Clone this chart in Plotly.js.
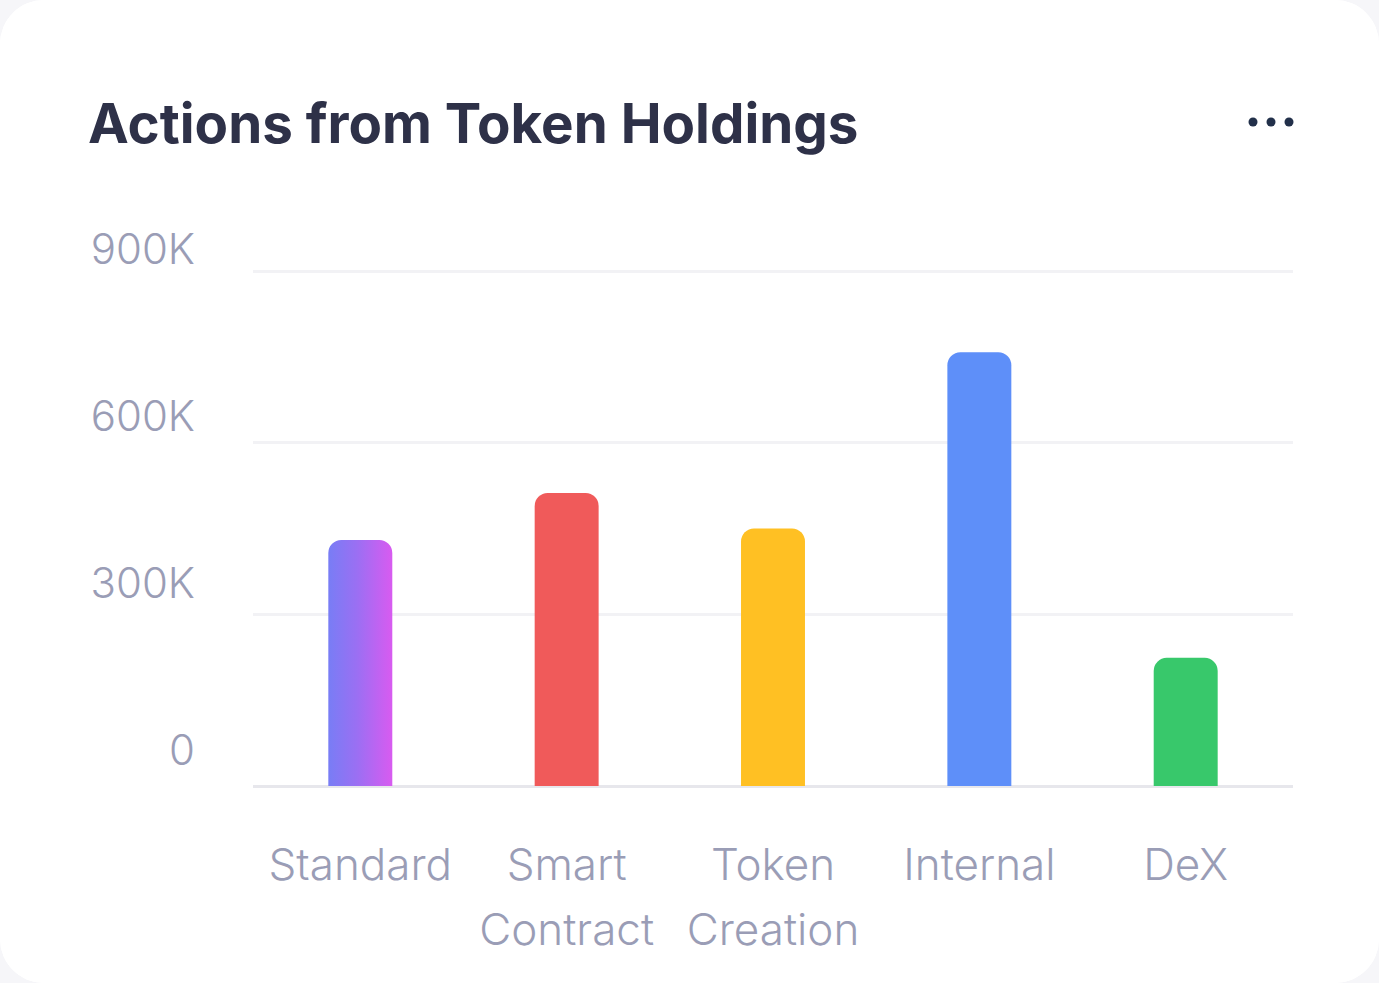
<!DOCTYPE html>
<html>
<head>
<meta charset="utf-8">
<script src="https://cdn.plot.ly/plotly-3.0.1.min.js"></script>
<style>
  html, body { margin: 0; padding: 0; background: #F6F6F9; width: 1379px; height: 983px; overflow: hidden; }
  #card { position: absolute; left: 0; top: 0; width: 1379px; height: 983px; background: #fff; border-radius: 44px; overflow: hidden; }
  #chart { width: 1379px; height: 983px; }
</style>
</head>
<body>
<div id="card"><div id="chart"></div></div>
<script>
const categories = ["Standard", "Smart<br>Contract", "Token<br>Creation", "Internal", "DeX"];
const values = [430000, 512000, 450000, 758000, 224000];
const barColors = ["#A56EF2", "#F05A5A", "#FFC023", "#5E8FF9", "#38C86B"];
const tickValues = [0, 300000, 600000, 900000];
const tickLabels = ["0", "300K", "600K", "900K"];

const trace = {
  type: "bar",
  x: categories,
  y: values,
  width: 0.31,
  marker: { color: barColors, cornerradius: 13, line: { width: 0 } },
  hoverinfo: "none"
};

// carrier so the label axis (y2) is drawn; draws nothing itself
const labelCarrier = {
  type: "scatter", x: categories, y: values, yaxis: "y2",
  mode: "none", hoverinfo: "skip", showlegend: false
};

const FIG_H = 983, PAPER_TOP = 230, PLOT_TOP = 265, PLOT_BOTTOM = 786;
const paperH = PLOT_BOTTOM - PAPER_TOP;
const dotY = (PLOT_BOTTOM - 122) / paperH;
const dots = [-40, -22, -4].map(dx => ({
  type: "circle", xref: "paper", yref: "paper",
  xsizemode: "pixel", ysizemode: "pixel",
  xanchor: 1, yanchor: dotY,
  x0: dx - 4.5, x1: dx + 4.5, y0: -4.5, y1: 4.5,
  fillcolor: "#22304A", line: { width: 0 }
}));

const tickFont = { family: "Inter, 'Noto Sans', sans-serif", size: 42, weight: 300, color: "#9A9DB6" };

// label axis: "0" label centred ~750px, "900K" label centred ~249px
const labPx0 = 750, labPx900 = 249;
const perPx = 900000 / (labPx0 - labPx900);
const y2range = [-(PLOT_BOTTOM - labPx0) * perPx, (labPx0 - PAPER_TOP) * perPx];

const layout = {
  width: 1379, height: 983,
  margin: { l: 253, r: 86, t: PAPER_TOP, b: FIG_H - PLOT_BOTTOM },
  paper_bgcolor: "#FFFFFF", plot_bgcolor: "rgba(0,0,0,0)",
  showlegend: false,
  title: {
    text: "Actions from Token Holdings",
    x: 88 / 1379, xref: "container", xanchor: "left",
    y: 1 - 124 / FIG_H, yref: "container", yanchor: "middle",
    font: { family: "Inter, 'Noto Sans', sans-serif", size: 54.7, weight: 700, color: "#2E3148" }
  },
  xaxis: {
    type: "category",
    range: [-0.52, 4.52],
    showgrid: false, showline: false, zeroline: false,
    ticks: "", ticklabelstandoff: 49,
    tickfont: Object.assign({}, tickFont, { size: 44 })
  },
  yaxis: {
    domain: [0, (PLOT_BOTTOM - PLOT_TOP) / paperH],
    range: [0, 910500],
    tickvals: tickValues, showticklabels: false,
    showgrid: true, gridcolor: "#F2F2F5", gridwidth: 3,
    zeroline: true, zerolinecolor: "#E7E7EC", zerolinewidth: 3,
    showline: false, ticks: ""
  },
  yaxis2: {
    domain: [0, 1], anchor: "free", position: 0, side: "left",
    range: y2range,
    tickvals: tickValues, ticktext: tickLabels,
    showgrid: false, zeroline: false, showline: false, ticks: "",
    ticklabelstandoff: 58,
    tickfont: tickFont
  },
  shapes: dots
};

const gd = document.getElementById("chart");
Plotly.newPlot(gd, [trace, labelCarrier], layout, { displayModeBar: false, staticPlot: true }).then(postProcess);

function postProcess() {
  const svg = gd.querySelector(".main-svg");
  let defs = svg.querySelector("defs");
  if (!defs) { defs = document.createElementNS("http://www.w3.org/2000/svg", "defs"); svg.insertBefore(defs, svg.firstChild); }
  if (!svg.querySelector("#barGrad")) {
    const lg = document.createElementNS("http://www.w3.org/2000/svg", "linearGradient");
    lg.setAttribute("id", "barGrad");
    lg.setAttribute("x1", "0"); lg.setAttribute("y1", "0");
    lg.setAttribute("x2", "1"); lg.setAttribute("y2", "0");
    [["0%", "#787DF5"], ["45%", "#9B6FF3"], ["100%", "#D85BF0"]].forEach(([o, c]) => {
      const s = document.createElementNS("http://www.w3.org/2000/svg", "stop");
      s.setAttribute("offset", o); s.setAttribute("stop-color", c);
      lg.appendChild(s);
    });
    defs.appendChild(lg);
  }
  const firstBar = gd.querySelector(".barlayer .point path");
  if (firstBar) firstBar.style.fill = "url(#barGrad)";
  // wider line spacing for two-line category labels
  gd.querySelectorAll(".xtick text tspan.line").forEach(t => {
    if (t.getAttribute("dy") && t.getAttribute("dy") !== "0em") t.setAttribute("dy", "1.48em");
  });
}
</script>
</body>
</html>
